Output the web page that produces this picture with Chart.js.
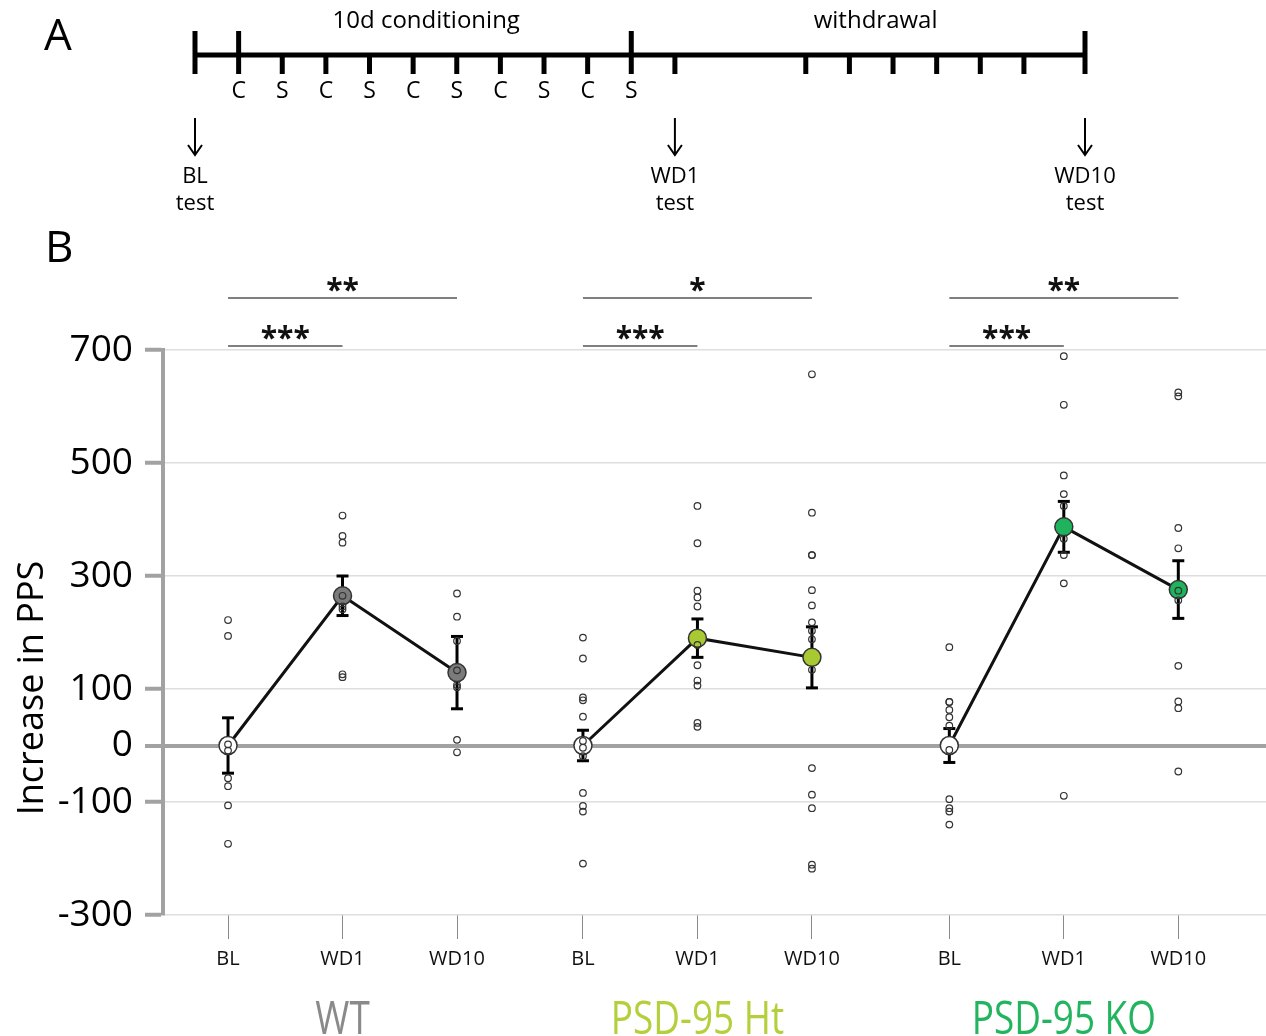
<!DOCTYPE html>
<html>
<head>
<meta charset="utf-8">
<script src="https://cdn.jsdelivr.net/npm/chart.js@4.4.0/dist/chart.umd.min.js"></script>
<style>
  html, body { margin: 0; padding: 0; background: #fff; }
  #wrap { position: relative; width: 1266px; height: 1036px; overflow: hidden; }
  #timeline { position: absolute; left: 0; top: 0; }
  #stats { position: absolute; left: 0; top: 230px; }
</style>
</head>
<body>
<div id="wrap">
  <canvas id="timeline" width="1266" height="230"></canvas>
  <canvas id="stats" width="1266" height="806"></canvas>
</div>
<script>
// ---- panel A : protocol (days) ----
var blDay = 0;
var condDays = [1, 2, 3, 4, 5, 6, 7, 8, 9, 10];
var condLabels = ['C', 'S', 'C', 'S', 'C', 'S', 'C', 'S', 'C', 'S'];
var wdTickDays = [11, 14, 15, 16, 17, 18, 19];
var endDay = 20.4;
var testDays = [0, 11, 20.4];
var testLabels = ['BL', 'WD1', 'WD10'];
var phaseTitles = ['10d conditioning', 'withdrawal'];
var phaseTitleDays = [5.3, 15.6];

// ---- panel B : increase in PPS ----
var timepoints = ['BL', 'WD1', 'WD10'];
var groups = ['WT', 'PSD-95 Ht', 'PSD-95 KO'];
var yTicks = [700, 500, 300, 100, 0, -100, -300];

var wtBL   = [222, 194, 2, -9, -58, -72, -106, -174];
var wtWD1  = [407, 371, 359, 265, 246, 241, 126, 121];
var wtWD10 = [269, 228, 185, 133, 107, 103, 10, -12];

var htBL   = [191, 154, 85, 80, 51, 8, -4, -19, -84, -107, -117, -209];
var htWD1  = [424, 358, 274, 262, 246, 178, 142, 115, 106, 40, 33];
var htWD10 = [657, 412, 337, 337, 275, 248, 218, 203, 188, 134, -40, -87, -111, -211, -218];

var koBL   = [174, 77, 77, 63, 50, 35, -8, -95, -111, -117, -140];
var koWD1  = [689, 603, 478, 445, 424, 366, 337, 287, -89];
var koWD10 = [625, 618, 385, 349, 274, 257, 141, 78, 66, -46];

var wtMean = [0, 265, 129];
var wtSem  = [49, 35, 64];
var htMean = [0, 190, 156];
var htSem  = [27, 34, 54];
var koMean = [0, 387, 276];
var koSem  = [30, 45, 51];

var wtStars = ['***', '**'];
var htStars = ['***', '*'];
var koStars = ['***', '**'];

var groupColors = ['#7b7b7b', '#a9c933', '#20b35d'];
var labelColors = ['#8a8a8a', '#b3d03c', '#22b45e'];

// where each group starts on the x axis (one unit per time point)
var GROUP_OFFSETS = [0, 3.1, 6.3];
function xPos(g, t) { return GROUP_OFFSETS[g] + t; }

function line(ctx, x1, y1, x2, y2) {
  ctx.beginPath();
  ctx.moveTo(x1, y1);
  ctx.lineTo(x2, y2);
  ctx.stroke();
}

// ---------- timeline chart ----------
var timelinePlugin = {
  id: 'timeline',
  afterDraw: function (chart) {
    var ctx = chart.ctx;
    var x = chart.scales.x;
    var px = function (d) { return x.getPixelForValue(d); };
    ctx.save();
    ctx.strokeStyle = '#000';
    ctx.fillStyle = '#000';
    ctx.lineWidth = 5;
    line(ctx, px(blDay), 55, px(endDay), 55);
    [blDay, condDays[0], condDays[condDays.length - 1], endDay].forEach(function (d) {
      line(ctx, px(d), 31, px(d), 74);
    });
    condDays.slice(1, -1).concat(wdTickDays).forEach(function (d) {
      line(ctx, px(d), 55, px(d), 74);
    });

    ctx.textAlign = 'center';
    ctx.textBaseline = 'alphabetic';
    ctx.font = '23px "Open Sans"';
    condDays.forEach(function (d, i) {
      ctx.fillText(condLabels[i], px(d), 98);
    });
    ctx.font = '24px "Open Sans"';
    phaseTitles.forEach(function (t, i) {
      ctx.fillText(t, px(phaseTitleDays[i]), 28);
    });

    ctx.lineWidth = 2;
    ctx.font = '22px "Open Sans"';
    testDays.forEach(function (d, i) {
      var cx = px(d);
      line(ctx, cx, 118, cx, 155);
      ctx.beginPath();
      ctx.moveTo(cx - 7, 145);
      ctx.lineTo(cx, 155);
      ctx.lineTo(cx + 7, 145);
      ctx.stroke();
      ctx.fillText(testLabels[i], cx, 183);
      ctx.fillText('test', cx, 210);
    });

    ctx.textAlign = 'left';
    ctx.font = '44px "Open Sans"';
    ctx.fillText('A', 44, 50);
    ctx.restore();
  }
};

new Chart(document.getElementById('timeline'), {
  type: 'scatter',
  data: { datasets: [] },
  options: {
    responsive: false,
    animation: false,
    devicePixelRatio: 1,
    layout: { autoPadding: false, padding: { left: 195, right: 181, top: 0, bottom: 0 } },
    plugins: { legend: { display: false }, tooltip: { enabled: false } },
    scales: {
      x: { type: 'linear', min: blDay, max: endDay, display: false },
      y: { type: 'linear', min: 0, max: 1, display: false }
    }
  },
  plugins: [timelinePlugin]
});

// ---------- stats chart ----------
var pointSets = [[wtBL, wtWD1, wtWD10], [htBL, htWD1, htWD10], [koBL, koWD1, koWD10]];
var means = [wtMean, htMean, koMean];
var sems = [wtSem, htSem, koSem];
var stars = [wtStars, htStars, koStars];

var datasets = [];
pointSets.forEach(function (sets, g) {
  var pts = [];
  sets.forEach(function (vals, t) {
    vals.forEach(function (v) { pts.push({ x: xPos(g, t), y: v }); });
  });
  datasets.push({
    type: 'scatter',
    data: pts,
    pointRadius: 3.3,
    pointBorderWidth: 1.2,
    pointBorderColor: '#333',
    pointBackgroundColor: 'rgba(0,0,0,0)',
    showLine: false
  });
});
means.forEach(function (m, g) {
  datasets.push({
    type: 'line',
    data: m.map(function (v, t) { return { x: xPos(g, t), y: v }; }),
    borderColor: '#111',
    borderWidth: 3,
    tension: 0,
    fill: false,
    pointRadius: 9,
    pointBorderWidth: 1.5,
    pointBorderColor: '#333',
    pointBackgroundColor: ['#ffffff', groupColors[g], groupColors[g]]
  });
});

var tickPositions = [];
groups.forEach(function (gName, g) {
  timepoints.forEach(function (tp, t) { tickPositions.push(xPos(g, t)); });
});

var statsPlugin = {
  id: 'stats',
  beforeDatasetsDraw: function (chart) {
    var ctx = chart.ctx, xs = chart.scales.x, ys = chart.scales.y;
    ctx.save();
    ctx.strokeStyle = '#000';
    ctx.lineWidth = 3;
    means.forEach(function (m, g) {
      m.forEach(function (v, t) {
        var cx = xs.getPixelForValue(xPos(g, t));
        var top = ys.getPixelForValue(v + sems[g][t]);
        var bot = ys.getPixelForValue(v - sems[g][t]);
        line(ctx, cx, top, cx, bot);
        line(ctx, cx - 6, top, cx + 6, top);
        line(ctx, cx - 6, bot, cx + 6, bot);
      });
    });
    ctx.restore();
  },
  afterDraw: function (chart) {
    var ctx = chart.ctx, xs = chart.scales.x, ys = chart.scales.y;
    ctx.save();
    // significance brackets: BL vs WD1 (lower), BL vs WD10 (upper)
    var levels = [707, 792];
    ctx.strokeStyle = '#555';
    ctx.lineWidth = 1.6;
    ctx.fillStyle = '#111';
    ctx.textAlign = 'center';
    ctx.textBaseline = 'alphabetic';
    ctx.font = 'bold 30px "Open Sans"';
    stars.forEach(function (s, g) {
      s.forEach(function (label, k) {
        var x1 = xs.getPixelForValue(xPos(g, 0));
        var x2 = xs.getPixelForValue(xPos(g, k + 1));
        var y = ys.getPixelForValue(levels[k]);
        line(ctx, x1, y, x2, y);
        ctx.fillText(label, (x1 + x2) / 2, y + 2);
      });
    });

    // group names
    ctx.font = '45px "Open Sans"';
    groups.forEach(function (name, g) {
      ctx.save();
      ctx.translate(xs.getPixelForValue(xPos(g, 1)), 804);
      ctx.scale(0.82, 1);
      ctx.fillStyle = labelColors[g];
      ctx.fillText(name, 0, 0);
      ctx.restore();
    });

    // axis title
    ctx.save();
    ctx.translate(43, 458);
    ctx.rotate(-Math.PI / 2);
    ctx.fillStyle = '#000';
    ctx.font = '36px "Open Sans"';
    ctx.fillText('Increase in PPS', 0, 0);
    ctx.restore();

    ctx.fillStyle = '#000';
    ctx.textAlign = 'left';
    ctx.font = '44px "Open Sans"';
    ctx.fillText('B', 45, 32);
    ctx.restore();
  }
};

new Chart(document.getElementById('stats'), {
  type: 'scatter',
  data: { datasets: datasets },
  options: {
    responsive: false,
    animation: false,
    devicePixelRatio: 1,
    layout: { autoPadding: false, padding: { left: 0, right: 0, top: 120, bottom: 0 } },
    plugins: { legend: { display: false }, tooltip: { enabled: false } },
    scales: {
      x: {
        type: 'linear',
        min: -0.568,
        max: 9.066,
        afterBuildTicks: function (s) { s.ticks = tickPositions.map(function (v) { return { value: v }; }); },
        afterFit: function (s) { s.height = 121; s.paddingLeft = 0; s.paddingRight = 0; },
        border: { display: false },
        grid: { drawOnChartArea: false, drawTicks: true, tickLength: 24, tickColor: '#8a8a8a', tickWidth: 1 },
        ticks: {
          autoSkip: false,
          maxRotation: 0,
          padding: 8,
          color: '#111',
          font: { family: 'Open Sans', size: 20 },
          callback: function (v, i) { return timepoints[i % 3]; }
        }
      },
      y: {
        type: 'linear',
        min: -300,
        max: 700,
        afterBuildTicks: function (s) { s.ticks = yTicks.map(function (v) { return { value: v }; }); },
        afterFit: function (s) { s.width = 163; s.paddingTop = 0; s.paddingBottom = 0; },
        border: { color: '#a2a2a2', width: 4 },
        grid: {
          color: function (c) { return c.tick && c.tick.value === 0 ? '#a2a2a2' : '#dedede'; },
          lineWidth: function (c) { return c.tick && c.tick.value === 0 ? 4 : 1.5; },
          tickColor: '#a2a2a2',
          tickWidth: 4,
          tickLength: 18
        },
        ticks: { padding: 12, color: '#000', font: { family: 'Open Sans', size: 37 } }
      }
    }
  },
  plugins: [statsPlugin]
});
</script>
</body>
</html>
